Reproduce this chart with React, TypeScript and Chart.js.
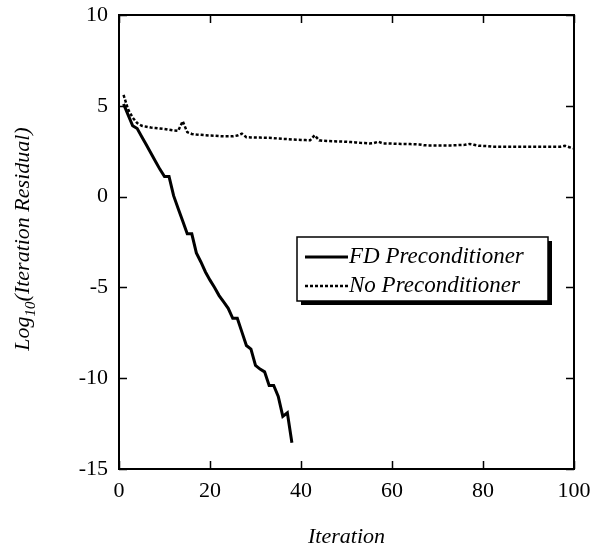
import React, { useEffect, useRef } from "react";
import { Chart, registerables } from "chart.js";

Chart.register(...registerables);

const FONT = "'Times New Roman', 'Liberation Serif', Tinos, serif";

const fdIterations = [1, 2, 3, 4, 5, 6, 7, 8, 9, 10, 11, 12, 13, 14, 15, 16, 17, 18, 19, 20, 21, 22, 23, 24, 25, 26, 27, 28, 29, 30, 31, 32, 33, 34, 35, 36, 37, 38];
const fdLogResidual = [5.1, 4.5, 3.9, 3.75, 3.3, 2.85, 2.4, 1.95, 1.5, 1.1, 1.1, 0.05, -0.65, -1.35, -2.05, -2.05, -3.1, -3.6, -4.15, -4.6, -5.0, -5.45, -5.8, -6.15, -6.7, -6.7, -7.45, -8.2, -8.4, -9.3, -9.5, -9.65, -10.4, -10.4, -11.0, -12.1, -11.9, -13.55];

const noIterations = [1, 2, 3, 4, 5, 6, 7, 8, 9, 10, 11, 12, 13, 14, 15, 16, 17, 18, 19, 20, 21, 22, 23, 24, 25, 26, 27, 28, 29, 30, 31, 32, 33, 34, 35, 36, 37, 38, 39, 40, 41, 42, 43, 44, 45, 46, 47, 48, 49, 50, 51, 52, 53, 54, 55, 56, 57, 58, 59, 60, 61, 62, 63, 64, 65, 66, 67, 68, 69, 70, 71, 72, 73, 74, 75, 76, 77, 78, 79, 80, 81, 82, 83, 84, 85, 86, 87, 88, 89, 90, 91, 92, 93, 94, 95, 96, 97, 98, 99, 100];
const noLogResidual = [5.6, 4.8, 4.35, 4.05, 3.9, 3.85, 3.8, 3.78, 3.75, 3.72, 3.68, 3.64, 3.62, 4.15, 3.55, 3.45, 3.42, 3.4, 3.38, 3.36, 3.35, 3.33, 3.32, 3.32, 3.32, 3.36, 3.47, 3.27, 3.26, 3.25, 3.25, 3.24, 3.24, 3.22, 3.2, 3.18, 3.17, 3.15, 3.13, 3.12, 3.11, 3.1, 3.38, 3.1, 3.07, 3.06, 3.05, 3.04, 3.03, 3.02, 3.0, 2.98, 2.96, 2.95, 2.93, 2.95, 3.02, 2.93, 2.93, 2.92, 2.91, 2.9, 2.9, 2.89, 2.88, 2.87, 2.83, 2.82, 2.82, 2.82, 2.82, 2.82, 2.82, 2.83, 2.84, 2.85, 2.9, 2.85, 2.8, 2.79, 2.78, 2.75, 2.75, 2.75, 2.75, 2.75, 2.75, 2.75, 2.75, 2.75, 2.75, 2.75, 2.75, 2.75, 2.75, 2.75, 2.75, 2.8, 2.72, 2.65];

const xTicks = [0, 20, 40, 60, 80, 100];
const yTicks = [-15, -10, -5, 0, 5, 10];
const seriesLabels = ["FD Preconditioner", "No Preconditioner"];
const xTitle = "Iteration";
const yTitleMain = "Log";
const yTitleSub = "10";
const yTitleRest = "(Iteration Residual)";

const framePlugin = {
  id: "frameTicks",
  afterDraw(chart: any) {
    const { ctx, chartArea } = chart;
    const { left, right, top, bottom } = chartArea;
    const xs = chart.scales.x;
    const ys = chart.scales.y;
    const tl = 8;
    ctx.save();
    ctx.strokeStyle = "#000";
    ctx.lineWidth = 2;
    ctx.strokeRect(left, top, right - left, bottom - top);
    ctx.lineWidth = 1.5;
    ctx.beginPath();
    xTicks.forEach((v) => {
      const px = Math.round(xs.getPixelForValue(v)) + 0.5;
      ctx.moveTo(px, bottom);
      ctx.lineTo(px, bottom - tl);
      ctx.moveTo(px, top);
      ctx.lineTo(px, top + tl);
    });
    yTicks.forEach((v) => {
      const py = Math.round(ys.getPixelForValue(v)) + 0.5;
      ctx.moveTo(left, py);
      ctx.lineTo(left + tl, py);
      ctx.moveTo(right, py);
      ctx.lineTo(right - tl, py);
    });
    ctx.stroke();

    // Axis titles
    ctx.fillStyle = "#000";
    ctx.font = `italic 22px ${FONT}`;
    ctx.textAlign = "center";
    ctx.textBaseline = "middle";
    ctx.fillText(xTitle, (left + right) / 2, 537);

    // Y title with subscript
    ctx.save();
    const cx = 22;
    const cy = (top + bottom) / 2 - 3;
    ctx.translate(cx, cy);
    ctx.rotate(-Math.PI / 2);
    ctx.textAlign = "left";
    ctx.textBaseline = "alphabetic";
    const mainFont = `italic 22px ${FONT}`;
    const subFont = `italic 15px ${FONT}`;
    ctx.font = mainFont;
    const w1 = ctx.measureText(yTitleMain).width;
    const w3 = ctx.measureText(yTitleRest).width;
    ctx.font = subFont;
    const w2 = ctx.measureText(yTitleSub).width;
    const total = w1 + w2 + w3;
    let x0 = -total / 2;
    const base = 7;
    ctx.font = mainFont;
    ctx.fillText(yTitleMain, x0, base);
    x0 += w1;
    ctx.font = subFont;
    ctx.fillText(yTitleSub, x0, base + 6);
    x0 += w2;
    ctx.font = mainFont;
    ctx.fillText(yTitleRest, x0, base);
    ctx.restore();

    // Legend
    const bx = 297, by = 237, bw = 251, bh = 64;
    ctx.fillStyle = "#000";
    ctx.fillRect(bx + 4, by + 4, bw, bh);
    ctx.fillStyle = "#fff";
    ctx.fillRect(bx, by, bw, bh);
    ctx.strokeStyle = "#000";
    ctx.lineWidth = 1.5;
    ctx.strokeRect(bx, by, bw, bh);
    const rows = [257, 286];
    chart.data.datasets.forEach((ds: any, i: number) => {
      const ry = rows[i];
      ctx.beginPath();
      ctx.lineWidth = ds.borderWidth;
      ctx.setLineDash(ds.borderDash || []);
      ctx.moveTo(305, ry);
      ctx.lineTo(348, ry);
      ctx.stroke();
      ctx.setLineDash([]);
      ctx.fillStyle = "#000";
      ctx.font = `italic 23px ${FONT}`;
      ctx.textAlign = "left";
      ctx.textBaseline = "middle";
      ctx.fillText(ds.label, 349, ry);
    });
    ctx.restore();
  },
};

export default function App() {
  const ref = useRef<HTMLCanvasElement | null>(null);
  useEffect(() => {
    document.body.style.margin = "0";
    if (!ref.current) return;
    const chart = new Chart(ref.current, {
      type: "line",
      data: {
        datasets: [
          {
            label: seriesLabels[0],
            data: fdIterations.map((x, i) => ({ x, y: fdLogResidual[i] })),
            borderColor: "#000",
            borderWidth: 3,
            pointRadius: 0,
            fill: false,
            tension: 0,
          },
          {
            label: seriesLabels[1],
            data: noIterations.map((x, i) => ({ x, y: noLogResidual[i] })),
            borderColor: "#000",
            borderWidth: 2.5,
            borderDash: [3, 2],
            pointRadius: 0,
            fill: false,
            tension: 0,
          },
        ],
      },
      options: {
        animation: false,
        responsive: false,
        maintainAspectRatio: false,
        layout: { padding: { left: 0, right: 21, top: 15, bottom: 0 } },
        plugins: { legend: { display: false }, tooltip: { enabled: false } },
        scales: {
          x: {
            type: "linear",
            min: 0,
            max: 100,
            afterBuildTicks: (s: any) => {
              s.ticks = xTicks.map((v) => ({ value: v }));
            },
            grid: { display: false, drawTicks: false },
            border: { display: false },
            ticks: {
              padding: 9,
              color: "#000",
              font: { family: FONT, size: 22 },
              maxRotation: 0,
              autoSkip: false,
            },
            afterFit: (s: any) => {
              s.height = 81;
              s.paddingLeft = 0;
              s.paddingRight = 0;
            },
          },
          y: {
            type: "linear",
            min: -15,
            max: 10,
            afterBuildTicks: (s: any) => {
              s.ticks = yTicks.map((v) => ({ value: v }));
            },
            grid: { display: false, drawTicks: false },
            border: { display: false },
            ticks: {
              padding: 11,
              color: "#000",
              font: { family: FONT, size: 22 },
              autoSkip: false,
            },
            afterFit: (s: any) => {
              s.width = 119;
              s.paddingTop = 0;
              s.paddingBottom = 0;
            },
          },
        },
      },
      plugins: [framePlugin],
    } as any);
    let alive = true;
    if ((document as any).fonts && (document as any).fonts.load) {
      Promise.all([
        (document as any).fonts.load(`22px 'Liberation Serif'`),
        (document as any).fonts.load(`italic 22px 'Liberation Serif'`),
      ]).then(() => {
        if (alive) chart.update();
      }).catch(() => {});
    }
    return () => {
      alive = false;
      chart.destroy();
    };
  }, []);
  return (
    <div style={{ width: 595, height: 550 }}>
      <canvas ref={ref} width={595} height={550} style={{ display: "block" }} />
    </div>
  );
}
